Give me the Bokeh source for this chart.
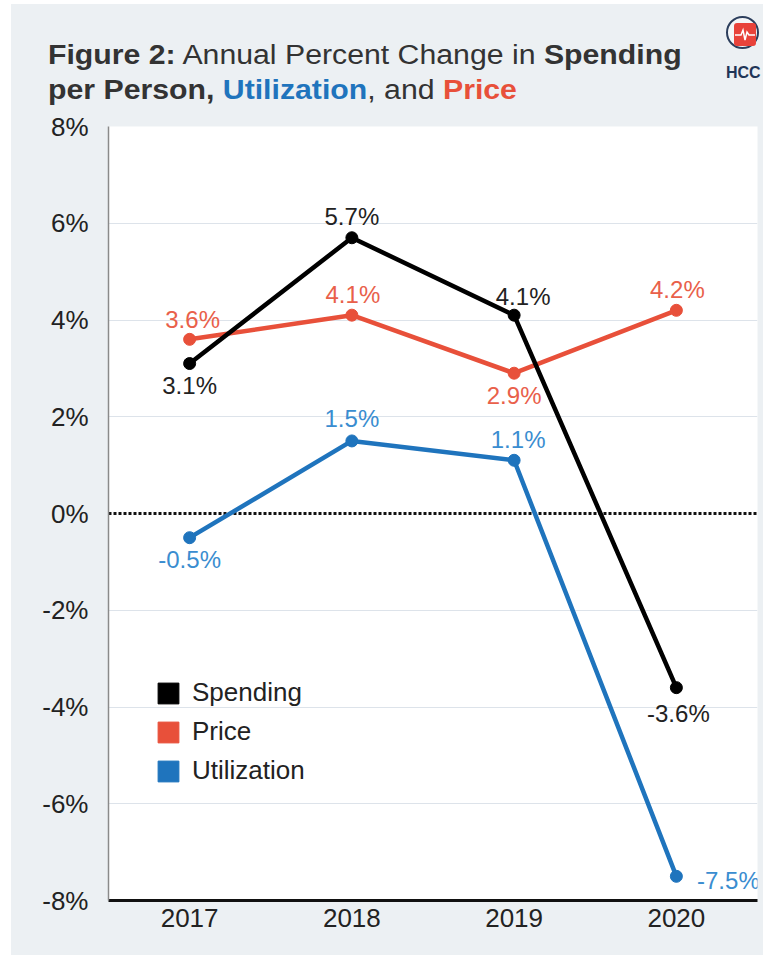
from bokeh.plotting import figure
from bokeh.layouts import column
from bokeh.models import (ColumnDataSource, Span, Legend, LegendItem, Div,
                          FixedTicker, PrintfTickFormatter, Range1d)
from bokeh.core.properties import value
from bokeh.embed import file_html
from bokeh.resources import INLINE

# ---------------- data ----------------
years = [2017, 2018, 2019, 2020]
spending = [3.1, 5.7, 4.1, -3.6]
price = [3.6, 4.1, 2.9, 4.2]
utilization = [-0.5, 1.5, 1.1, -7.5]
y_ticks = [-8, -6, -4, -2, 0, 2, 4, 6, 8]
grid_ticks = [-6, -4, -2, 2, 4, 6]
series_names = ["Spending", "Price", "Utilization"]

# label placement (screen px offsets, style only)
spend_dx = [0, 0, 9, 2]
spend_dy = [22, -21, -19, 26]
price_dx = [3, 1, 0, 1]
price_dy = [-20, -21, 22, -21]
util_dx = [0, 0, 4, 52]
util_dy = [22, -22, -21, 4]

FONT = "Liberation Sans"
BG = "#ecf0f3"
TXT = "#333333"
C_SPEND = "#000000"
C_PRICE = "#e8503a"
C_UTIL = "#1f74bd"
L_PRICE = "#e9604a"
L_UTIL = "#3a8dd0"

W = 752
TITLE_H = 106
MAIN_H = 845

# ---------------- title panel (HTML for mixed styling) ----------------
title_html = f"""
<div style="position:relative;width:{W}px;height:{TITLE_H}px;background:{BG};
            font-family:'{FONT}',Arial,sans-serif;color:{TXT};overflow:hidden;">
  <div style="position:absolute;left:37px;top:34px;font-size:27px;line-height:35px;
              white-space:nowrap;transform:scaleX(1.12);transform-origin:left top;">
    <b>Figure 2:</b> Annual Percent Change in <b>Spending</b><br>
    <b>per Person,</b> <b style="color:{C_UTIL}">Utilization</b>, and
    <b style="color:{C_PRICE}">Price</b>
  </div>
  <div style="position:absolute;left:715px;top:12px;width:33px;height:33px;
              border:2.5px solid #2c3e5c;border-radius:50%;background:#f4f6f8;">
    <div style="position:absolute;left:6px;top:5px;width:22px;height:23px;
                background:#e8423a;border-radius:3px;">
      <svg width="22" height="23" style="position:absolute;left:0;top:0;">
        <polyline points="1,12 7,12 9,7 11,17 13,9 15,12 21,12"
                  fill="none" stroke="white" stroke-width="1.5"/>
      </svg>
    </div>
  </div>
  <div style="position:absolute;left:715px;top:61px;font-size:16px;line-height:16px;
              font-weight:bold;color:#1f3557;white-space:nowrap;">HCC</div>
</div>
"""
title_div = Div(text=title_html, width=W, height=TITLE_H, margin=0)

# ---------------- main chart ----------------
p = figure(width=W, height=MAIN_H, x_range=Range1d(2016.5, 2020.5),
           y_range=Range1d(-8, 8), output_backend="svg", toolbar_location=None,
           min_border_left=97, min_border_right=6, min_border_top=16,
           min_border_bottom=55, background_fill_color="white",
           border_fill_color=BG, outline_line_color=None, margin=0)

p.xaxis.ticker = FixedTicker(ticks=years)
p.yaxis.ticker = FixedTicker(ticks=y_ticks)
p.yaxis.formatter = PrintfTickFormatter(format="%d%%")
for ax in (p.xaxis[0], p.yaxis[0]):
    ax.major_tick_line_color = None
    ax.minor_tick_line_color = None
    ax.major_label_text_font = FONT
    ax.major_label_text_font_size = "26px"
    ax.major_label_text_color = "#222222"
p.xaxis.axis_line_color = "#111111"
p.xaxis.axis_line_width = 3
p.xaxis.major_label_standoff = 2
p.yaxis.axis_line_color = "#8a8a8a"
p.yaxis.axis_line_width = 1.5
p.yaxis.major_label_standoff = 14

p.xgrid.visible = False
p.ygrid.ticker = FixedTicker(ticks=grid_ticks)
p.ygrid.grid_line_color = "#dde3ea"
p.ygrid.grid_line_width = 1.2

zero = Span(location=0, dimension="width", line_color="#111111",
            line_dash="3 2", line_width=3, level="underlay")
p.add_layout(zero)

series = [
    (utilization, C_UTIL, L_UTIL, util_dx, util_dy),
    (price, C_PRICE, L_PRICE, price_dx, price_dy),
    (spending, C_SPEND, "#222222", spend_dx, spend_dy),
]
for vals, col, lcol, dx, dy in series:
    src = ColumnDataSource(dict(x=years, y=vals,
                                t=[f"{v:.1f}%" for v in vals], dx=dx, dy=dy))
    p.line("x", "y", source=src, line_color=col, line_width=4.5)
    p.scatter("x", "y", source=src, size=12, fill_color=col, line_color=col)
    p.text("x", "y", text="t", source=src, x_offset="dx", y_offset="dy",
           text_align="center", text_baseline="middle",
           text_font=value(FONT), text_font_size="24px", text_color=lcol)

# legend with square swatches (swatch-only renderers hold no visible data)
items = []
for name, col in zip(series_names, [C_SPEND, C_PRICE, C_UTIL]):
    r = p.quad(left=[float("nan")], right=[float("nan")], top=[float("nan")],
               bottom=[float("nan")], fill_color=col, line_color=col)
    items.append(LegendItem(label=name, renderers=[r]))
legend = Legend(items=items, location=(47, 114), glyph_width=26, glyph_height=26,
                spacing=8, padding=0, label_standoff=11,
                label_text_font=FONT, label_text_font_size="26px",
                label_text_color="#222222", background_fill_alpha=0,
                border_line_color=None)
p.add_layout(legend)

layout = column(title_div, p, spacing=0, margin=(4, 0, 0, 11),
                styles={"background-color": BG})
open("out.html", "w").write(file_html(layout, INLINE))
